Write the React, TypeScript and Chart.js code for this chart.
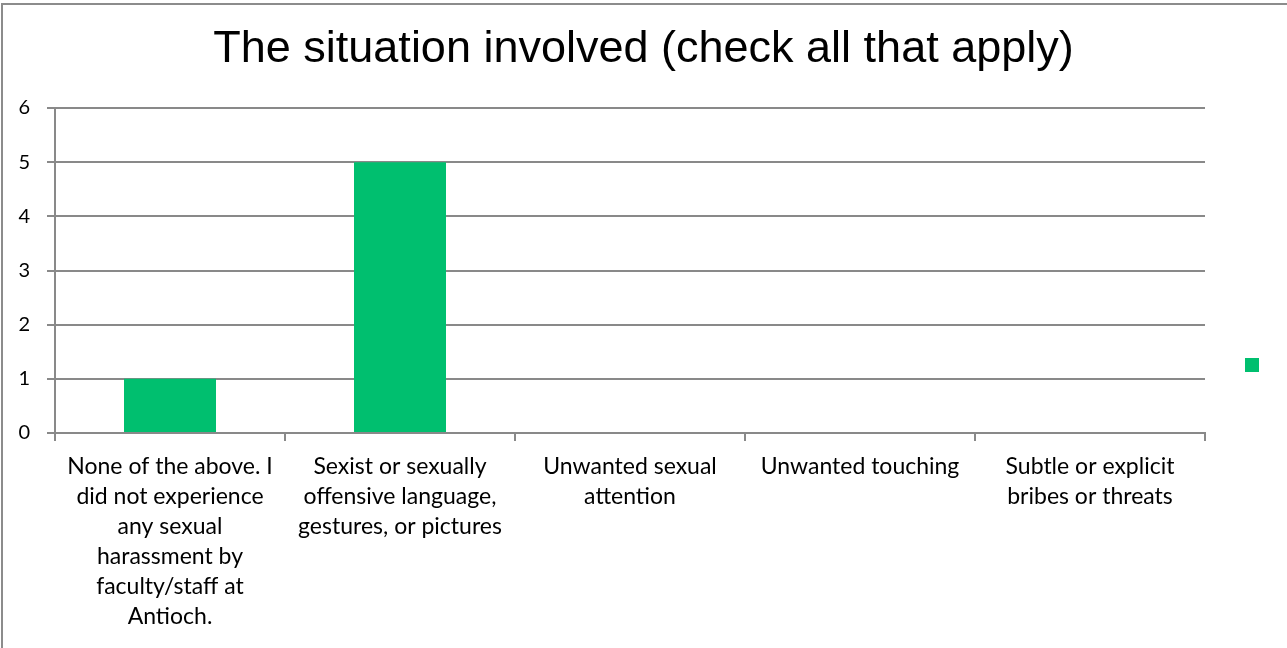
import React, { useEffect, useRef } from "react";
import { Chart, registerables } from "chart.js";

Chart.register(...registerables);

const categories: string[][] = [
  ["None of the above. I", "did not experience", "any sexual", "harassment by", "faculty/staff at", "Antioch."],
  ["Sexist or sexually", "offensive language,", "gestures, or pictures"],
  ["Unwanted sexual", "attention"],
  ["Unwanted touching"],
  ["Subtle or explicit", "bribes or threats"],
];
const counts: number[] = [1, 5, 0, 0, 0];
const yTicks: number[] = [0, 1, 2, 3, 4, 5, 6];
const titleText = "The situation involved (check all that apply)";
const seriesName = "";

const GREEN = "#00BF6F";
const GRID = "#898989";

const framePlugin = {
  id: "frame",
  beforeDraw(chart: any) {
    const ctx = chart.ctx;
    ctx.save();
    ctx.fillStyle = "#ffffff";
    ctx.fillRect(0, 0, chart.width, chart.height);
    ctx.fillStyle = "#8c8c8c";
    ctx.fillRect(1, 3, chart.width - 1, 2);
    ctx.fillRect(1, 3, 2, chart.height - 3);
    ctx.restore();
  },
  afterDraw(chart: any) {
    const ctx = chart.ctx;
    const ca = chart.chartArea;
    ctx.save();
    ctx.fillStyle = chart.data.datasets[0].backgroundColor;
    ctx.fillRect(ca.right + 40, ca.top + 250, 14, 14);
    ctx.restore();
  },
};

export default function App() {
  const ref = useRef<HTMLCanvasElement | null>(null);
  useEffect(() => {
    if (!ref.current) return;
    const chart = new Chart(ref.current, {
      type: "bar",
      data: {
        labels: categories,
        datasets: [
          {
            label: seriesName,
            data: counts,
            backgroundColor: GREEN,
            borderWidth: 0,
            categoryPercentage: 1,
            barPercentage: 0.4,
          },
        ],
      },
      options: {
        responsive: false,
        animation: false,
        layout: { padding: { left: 0, right: 0, top: 0, bottom: 0 } },
        plugins: {
          legend: { display: false },
          tooltip: { enabled: false },
          title: {
            display: true,
            text: titleText,
            color: "#000",
            font: { family: "'Liberation Sans', Arial, sans-serif", size: 45, weight: "normal", lineHeight: 1.2 },
            padding: { top: 23, bottom: 31 },
          },
        },
        scales: {
          x: {
            grid: { display: true, drawOnChartArea: false, drawTicks: true, tickLength: 8, color: GRID, lineWidth: 2, offset: true },
            border: { display: true, color: GRID, width: 2 },
            ticks: {
              color: "#000",
              font: { family: "Lato, 'Open Sans', sans-serif", size: 23, lineHeight: 1.304 },
              padding: 11,
              maxRotation: 0,
              minRotation: 0,
              autoSkip: false,
            },
            afterFit: (s: any) => {
              s.height = 215;
            },
          },
          y: {
            min: 0,
            max: 6,
            afterBuildTicks: (s: any) => {
              s.ticks = yTicks.map((v) => ({ value: v }));
            },
            grid: { color: GRID, lineWidth: 2, tickLength: 8, drawTicks: true },
            border: { display: true, color: GRID, width: 2 },
            ticks: {
              color: "#000",
              font: { family: "Lato, 'Open Sans', sans-serif", size: 20 },
              padding: 17,
            },
            afterFit: (s: any) => {
              s.width = 55;
            },
          },
          legendSpace: {
            type: "linear",
            position: "right",
            display: true,
            grid: { display: false },
            border: { display: false },
            ticks: { display: false },
            afterFit: (s: any) => {
              s.width = 82;
            },
          },
        },
      },
      plugins: [framePlugin],
    });
    return () => chart.destroy();
  }, []);
  return (
    <div style={{ position: "fixed", left: 0, top: 0, width: 1287, height: 648, background: "#fff" }}>
      <canvas ref={ref} width={1287} height={648} style={{ display: "block" }} />
    </div>
  );
}
